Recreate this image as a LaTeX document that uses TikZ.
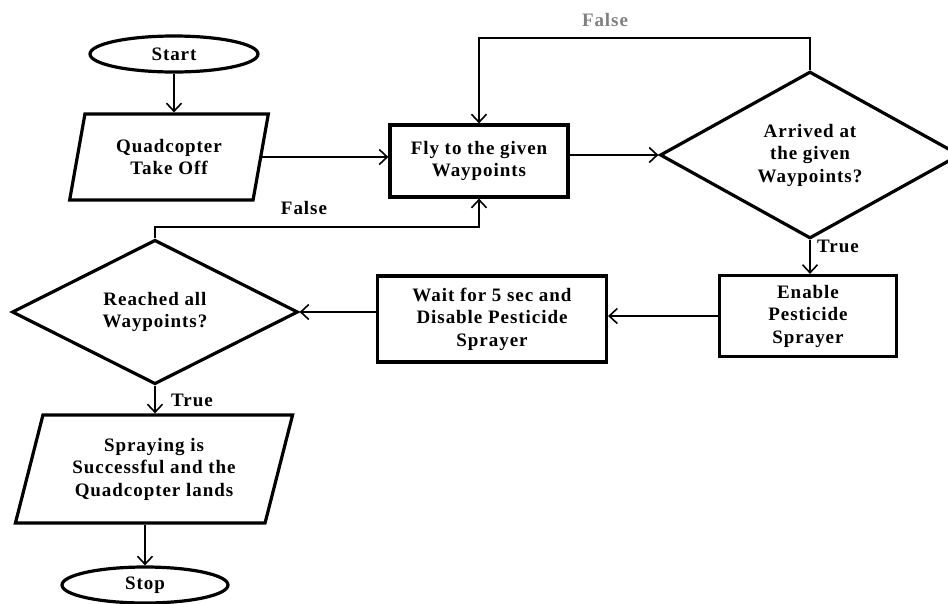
\documentclass[tikz,border=0pt]{standalone}
\usepackage{fontspec}
\setmainfont{Liberation Serif}[LetterSpace=5]
\usetikzlibrary{shapes.geometric,arrows.meta}
\tikzset{
  base/.style={draw=black, line width=3.2pt, align=center, font=\fontsize{19}{22.5}\selectfont\bfseries, inner sep=0pt},
  term/.style={base, ellipse},
  procbox/.style={base, rectangle},
  decision/.style={base, diamond},
  io/.style={base, trapezium, trapezium stretches=true},
  arr/.style={line width=1.6pt, -{Straight Barb[length=8pt,width=15pt,line width=1.6pt]}},
  lbl/.style={font=\fontsize{19}{22}\selectfont\bfseries, inner sep=1pt}
}
\begin{document}
\begin{tikzpicture}[x=1pt,y=-1pt]
\useasboundingbox (0,0) rectangle (948,603);
\node[term, minimum width=168pt, minimum height=36pt] (start) at (174,54) {Start};
\node[io, trapezium left angle=75, trapezium right angle=105, minimum width=199pt, minimum height=86pt] (takeoff) at (169,157) {Quadcopter\\Take Off};
\node[procbox, minimum width=178pt, minimum height=72pt] (fly) at (479,161) {Fly to the given\\Waypoints};
\node[decision, minimum width=300pt, minimum height=165pt] (d1) at (810,155) {Arrived at\\the given\\Waypoints?};
\node[procbox, minimum width=177pt, minimum height=81pt] (enable) at (808,316) {Enable\\Pesticide\\Sprayer};
\node[procbox, minimum width=229pt, minimum height=86pt] (wait) at (492,319) {Wait for 5 sec and\\Disable Pesticide\\Sprayer};
\node[decision, minimum width=286pt, minimum height=127pt] (d2) at (155,312) {Reached all\\Waypoints?};
\node[io, trapezium left angle=72, trapezium right angle=108, minimum width=278pt, minimum height=108pt] (spray) at (154,469) {Spraying is\\Successful and the\\Quadcopter lands};
\node[term, minimum width=166pt, minimum height=36pt] (stop) at (145,585) {Stop};

\coordinate (topline) at (0,38);
\coordinate (midline) at (0,227);

\draw[arr] (start.south) -- (start.south |- takeoff.north);
\draw[arr] (takeoff.east) -- (takeoff.east -| fly.west);
\draw[arr] (fly.east |- d1.west) -- (d1.west);
\draw[arr] (d1.north) -- (d1.north |- topline) -| (fly.north);
\draw[arr] (d1.south) -- (d1.south |- enable.north);
\draw[arr] (enable.west) -- (enable.west -| wait.east);
\draw[arr] (wait.west |- d2.east) -- (d2.east);
\draw[arr] (d2.north) -- (d2.north |- midline) -| (fly.south);
\draw[arr] (d2.south) -- (d2.south |- spray.north);
\draw[arr] (stop.north |- spray.south) -- (stop.north);

\node[lbl, text=black!50] (f1) at (605,20) {False};
\node[lbl] (f2) at (304,208) {False};
\node[lbl] (t1) at (838,246) {True};
\node[lbl] (t2) at (192,400) {True};
\end{tikzpicture}
\end{document}
